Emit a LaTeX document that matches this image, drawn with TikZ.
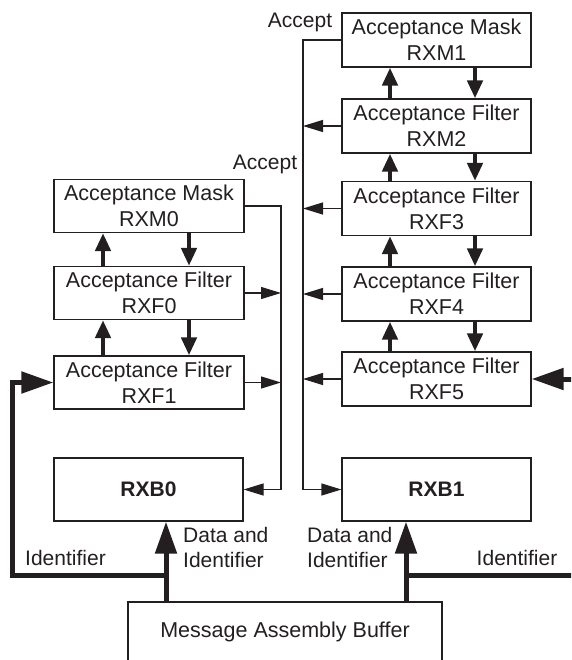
\documentclass[tikz,border=0pt]{standalone}
\usepackage{fontspec}
\setmainfont{Liberation Sans}
\usetikzlibrary{arrows.meta}
\definecolor{ink}{RGB}{35,31,32}
\begin{document}
\begin{tikzpicture}[x=1pt,y=-1pt,
  every node/.style={text=ink},
  box/.style={draw=ink, line width=1.2pt, inner sep=0pt, align=center,
    font=\fontsize{21.5}{26}\selectfont},
  lbox/.style={box, minimum width=190pt, minimum height=53pt},
  rbox/.style={box, minimum width=189pt, minimum height=54pt},
  bbox/.style={box, minimum width=189pt, minimum height=63pt,
    font=\fontsize{21}{25}\selectfont\bfseries},
  lbl/.style={inner sep=0pt, align=left, font=\fontsize{21}{25.5}\selectfont},
  thin/.style={draw=ink, line width=1.2pt, -{Triangle[length=20pt,width=12pt]}},
  bus/.style={draw=ink, line width=1.2pt},
  mid/.style={draw=ink, line width=4.5pt, -{Triangle[length=18pt,width=15pt]}},
  big/.style={draw=ink, line width=5pt, -{Triangle[length=32pt,width=21pt]}},
  bigline/.style={draw=ink, line width=5pt},
]
\useasboundingbox (0,0) rectangle (571,660);
\clip (0,0) rectangle (571,660);

% left stack
\node[lbox] (rxm0) at (149,206)   {Acceptance Mask\\RXM0};
\node[lbox] (rxf0) at (149,293)   {Acceptance Filter\\RXF0};
\node[lbox] (rxf1) at (149,382.5) {Acceptance Filter\\RXF1};

% right stack
\node[rbox] (rxm1) at (436.5,40)    {Acceptance Mask\\RXM1};
\node[rbox] (rxm2) at (436.5,126)   {Acceptance Filter\\RXM2};
\node[rbox] (rxf3) at (436.5,208.5) {Acceptance Filter\\RXF3};
\node[rbox] (rxf4) at (436.5,294)   {Acceptance Filter\\RXF4};
\node[rbox] (rxf5) at (436.5,379)   {Acceptance Filter\\RXF5};

% receive buffers
\node[bbox] (rxb0) at (148.5,489.5) {RXB0};
\node[bbox] (rxb1) at (436.5,489.5) {RXB1};

% assembly buffer (runs past the lower edge)
\node[box, minimum width=314pt, minimum height=60pt] (mab) at (285,632)
  {Message Assembly Buffer};

% mask/filter chains, left
\draw[mid] (rxf0.north -| 103,0) -- (rxm0.south -| 103,0);
\draw[mid] (rxm0.south -| 189,0) -- (rxf0.north -| 189,0);
\draw[mid] (rxf1.north -| 103,0) -- (rxf0.south -| 103,0);
\draw[mid] (rxf0.south -| 189,0) -- (rxf1.north -| 189,0);

% mask/filter chains, right
\foreach \a/\b in {rxm1/rxm2, rxm2/rxf3, rxf3/rxf4, rxf4/rxf5}{
  \draw[mid] (\b.north -| 390,0) -- (\a.south -| 390,0);
  \draw[mid] (\a.south -| 475,0) -- (\b.north -| 475,0);
}

% accept bus into RXB0
\coordinate (lbtop) at (281,206);
\coordinate (lbbot) at (281,489.5);
\draw[bus] (rxm0.east) -- (lbtop) -- (lbbot);
\draw[thin] (lbbot) -- (rxb0.east);
\draw[thin] (rxf0.east) -- (rxf0.east -| lbtop);
\draw[thin] (rxf1.east) -- (rxf1.east -| lbtop);

% accept bus into RXB1
\coordinate (rbtop) at (303,40);
\coordinate (rbbot) at (303,489.5);
\draw[bus] (rxm1.west) -- (rbtop) -- (rbbot);
\draw[thin] (rbbot) -- (rxb1.west);
\foreach \n in {rxm2, rxf3, rxf4, rxf5}
  \draw[thin] (\n.west) -- (\n.west -| rbtop);

% data and identifier paths
\coordinate (d0) at (166,602);
\coordinate (d1) at (406,602);
\coordinate (i0) at (166,575);
\coordinate (i1) at (406,575);
\coordinate (lcorner) at (12,575);
\coordinate (rcorner) at (600,575);
\draw[big] (d0) -- (d0 |- rxb0.south);
\draw[big] (d1) -- (d1 |- rxb1.south);
\draw[bigline] (i0) -- (lcorner) -- (lcorner |- rxf1.west);
\draw[big] ([xshift=-2.5pt]lcorner |- rxf1.west) -- (rxf1.west);
\draw[bigline] (i1) -- (rcorner) -- (rcorner |- rxf5.east);
\draw[big] (rcorner |- rxf5.east) -- (rxf5.east);

% labels
\node[inner sep=0pt, font=\fontsize{21}{26}\selectfont] (acc1) at (300,22) {Accept};
\node[inner sep=0pt, font=\fontsize{21}{26}\selectfont] (acc0) at (265,164) {Accept};
\node[lbl] (id0) at (65.5,558) {Identifier};
\node[lbl] (id1) at (517,558) {Identifier};
\node[lbl, anchor=west] (di0) at (183,547.5) {Data and\\Identifier};
\node[lbl, anchor=west] (di1) at (307,547.5) {Data and\\Identifier};
\end{tikzpicture}
\end{document}
